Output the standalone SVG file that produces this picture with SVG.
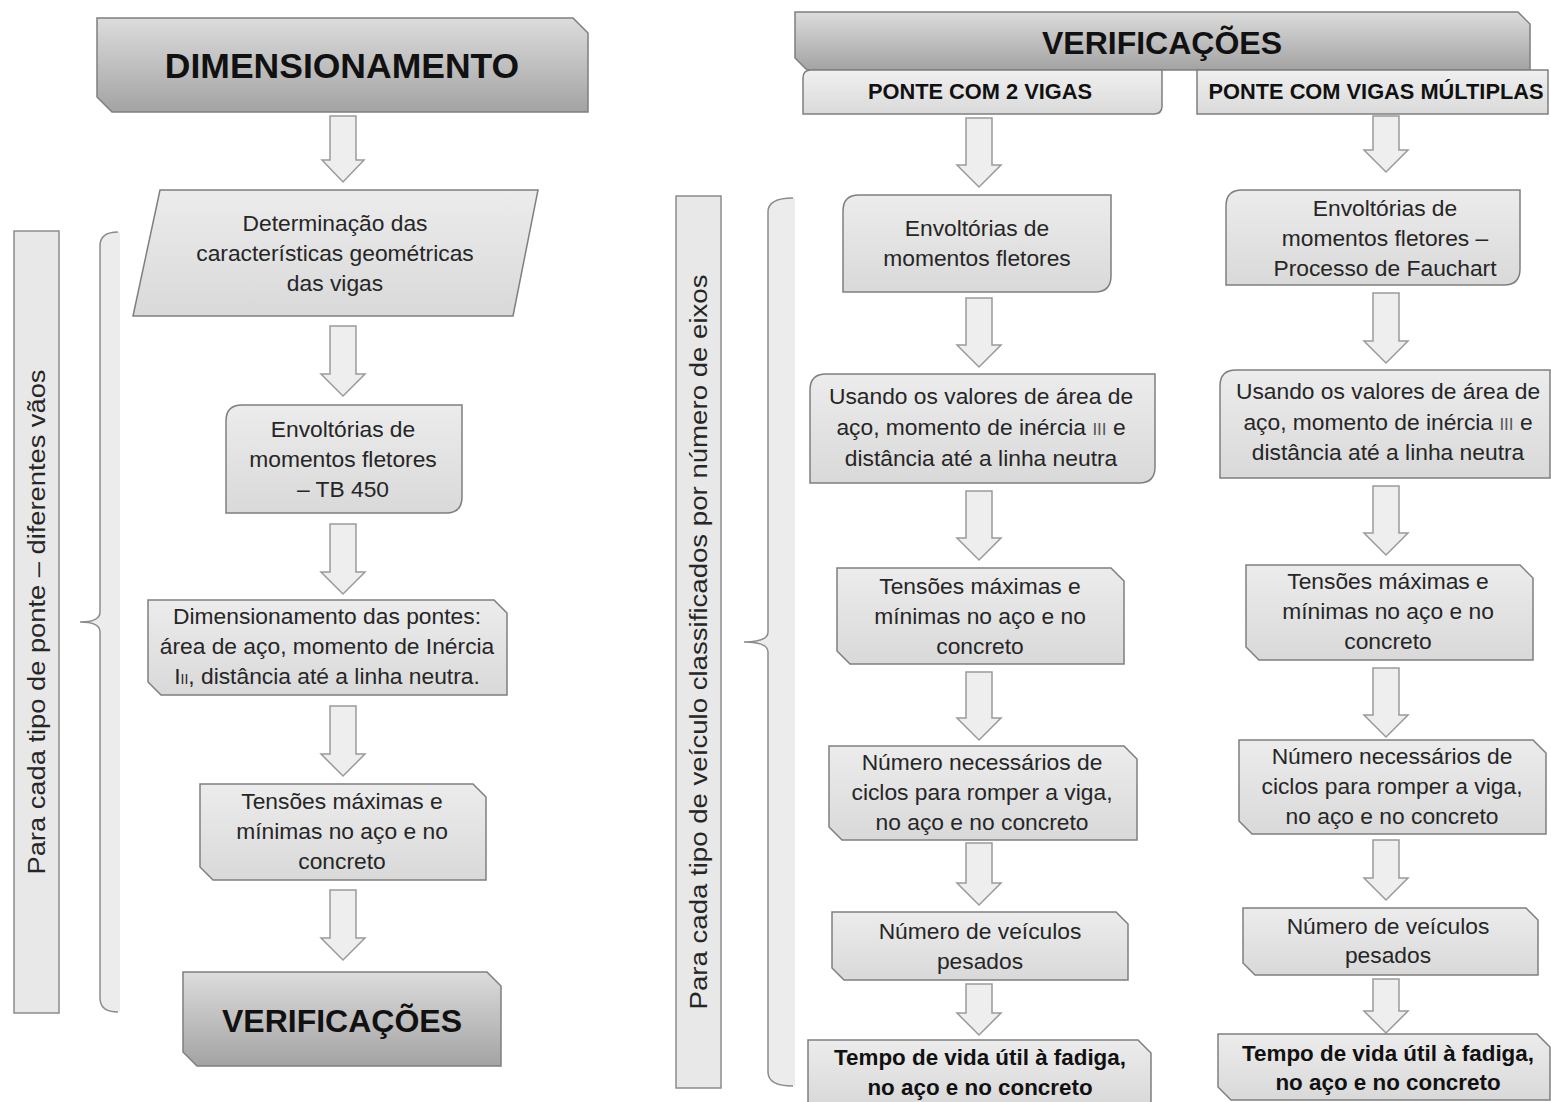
<svg xmlns="http://www.w3.org/2000/svg" width="1551" height="1102" viewBox="0 0 1551 1102">
<defs>
<linearGradient id="gBox" x1="0" y1="0" x2="0" y2="1">
<stop offset="0" stop-color="#ececec"/><stop offset="1" stop-color="#d9d9d9"/>
</linearGradient>
<linearGradient id="gHead" x1="0" y1="0" x2="0" y2="1">
<stop offset="0" stop-color="#dcdcdc"/><stop offset="1" stop-color="#a3a3a3"/>
</linearGradient>
<linearGradient id="gSub" x1="0" y1="0" x2="0" y2="1">
<stop offset="0" stop-color="#f0f0f0"/><stop offset="1" stop-color="#dadada"/>
</linearGradient>
<style>
.box{fill:url(#gBox);stroke:#7f7f7f;stroke-width:1.5}
.head{fill:url(#gHead);stroke:#7f7f7f;stroke-width:1.5}
.sub{fill:url(#gSub);stroke:#7f7f7f;stroke-width:1.5}
.arr{fill:#eeeeee;stroke:#9a9a9a;stroke-width:1.5;stroke-linejoin:miter}
.side{fill:#e8e8e8;stroke:#8c8c8c;stroke-width:1.5}
.brace{fill:none;stroke:#8c8c8c;stroke-width:1.5}
.bfill{fill:#ececec;stroke:none}
text{font-family:"Liberation Sans",Arial,sans-serif;fill:#262626;text-anchor:middle}
.t{font-size:22.8px}
.tb{font-size:22.4px;font-weight:bold;fill:#111}
.h{font-size:32px;font-weight:bold;fill:#111}
.hd{font-size:35.5px;font-weight:bold;fill:#111}
.hs{font-size:21.8px;font-weight:bold;fill:#111}
.v{font-size:23px}
</style>
</defs>

<!-- Side labels and braces -->
<g id="side-left">
<rect class="side" x="14" y="231" width="45" height="782"/>
<text class="v" transform="translate(45,622) rotate(-90)" textLength="505" lengthAdjust="spacingAndGlyphs">Para cada tipo de ponte – diferentes vãos</text>
</g>
<g id="brace-left">
<path class="bfill" d="M118,232 Q100,232 100,246 V612 Q100,622 80,622 Q100,622 100,632 V998 Q100,1012 118,1012 H120 V232 Z"/>
<path class="brace" d="M118,232 Q100,232 100,246 V612 Q100,622 80,622 Q100,622 100,632 V998 Q100,1012 118,1012"/>
</g>
<g id="side-right">
<rect class="side" x="676" y="196" width="45" height="892"/>
<text class="v" transform="translate(707,642) rotate(-90)" textLength="735" lengthAdjust="spacingAndGlyphs">Para cada tipo de veículo classificados por número de eixos</text>
</g>
<g id="brace-right">
<path class="bfill" d="M793,198 Q768,198 768,212 V632 Q768,642 744,642 Q768,642 768,652 V1072 Q768,1086 793,1086 H795 V198 Z"/>
<path class="brace" d="M793,198 Q768,198 768,212 V632 Q768,642 744,642 Q768,642 768,652 V1072 Q768,1086 793,1086"/>
</g>

<!-- Connectors (block arrows) -->
<g id="connectors">
<path class="arr" d="M330,116 H356 V160 H364 L343,182 L322,160 H330 Z"/>
<path class="arr" d="M330,326 H356 V374 H365 L343,396 L321,374 H330 Z"/>
<path class="arr" d="M330,524 H356 V572 H365 L343,594 L321,572 H330 Z"/>
<path class="arr" d="M330,706 H356 V754 H365 L343,776 L321,754 H330 Z"/>
<path class="arr" d="M330,890 H356 V938 H365 L343,960 L321,938 H330 Z"/>

<path class="arr" d="M966,118 H992 V165 H1001 L979,187 L957,165 H966 Z"/>
<path class="arr" d="M966,298 H992 V345 H1001 L979,367 L957,345 H966 Z"/>
<path class="arr" d="M966,491 H992 V538 H1001 L979,560 L957,538 H966 Z"/>
<path class="arr" d="M966,672 H992 V718 H1001 L979,740 L957,718 H966 Z"/>
<path class="arr" d="M966,843 H992 V883 H1001 L979,905 L957,883 H966 Z"/>
<path class="arr" d="M966,984 H992 V1013 H1001 L979,1035 L957,1013 H966 Z"/>

<path class="arr" d="M1373,116 H1399 V150 H1408 L1386,172 L1364,150 H1373 Z"/>
<path class="arr" d="M1373,293 H1399 V341 H1408 L1386,363 L1364,341 H1373 Z"/>
<path class="arr" d="M1373,486 H1399 V533 H1408 L1386,555 L1364,533 H1373 Z"/>
<path class="arr" d="M1373,668 H1399 V715 H1408 L1386,737 L1364,715 H1373 Z"/>
<path class="arr" d="M1373,840 H1399 V878 H1408 L1386,900 L1364,878 H1373 Z"/>
<path class="arr" d="M1373,979 H1399 V1011 H1408 L1386,1033 L1364,1011 H1373 Z"/>
</g>

<!-- Left column -->
<g id="n-dimensionamento">
<path class="head" d="M97,18 H573 L588,33 V112 H112 L97,97 Z"/>
<text class="hd" x="342" y="78">DIMENSIONAMENTO</text>
</g>
<g id="n-determinacao">
<path class="box" d="M160,190 H538 L513,316 H133 Z"/>
<text class="t" x="335" y="231">Determinação das</text>
<text class="t" x="335" y="261">características geométricas</text>
<text class="t" x="335" y="291">das vigas</text>
</g>
<g id="n-envoltorias-tb450">
<path class="box" d="M242,405 H462 V497 Q462,513 446,513 H226 V421 Q226,405 242,405 Z"/>
<text class="t" x="343" y="437">Envoltórias de</text>
<text class="t" x="343" y="467">momentos fletores</text>
<text class="t" x="343" y="497">– TB 450</text>
</g>
<g id="n-dimensionamento-pontes">
<path class="box" d="M148,600 H494 L507,613 V695 H161 L148,682 Z"/>
<text class="t" x="327" y="624">Dimensionamento das pontes:</text>
<text class="t" x="327" y="654">área de aço, momento de Inércia</text>
<text class="t" x="327" y="684">I<tspan font-size="14px">II</tspan>, distância até a linha neutra.</text>
</g>
<g id="n-tensoes-left">
<path class="box" d="M200,784 H473 L486,797 V880 H213 L200,867 Z"/>
<text class="t" x="342" y="809">Tensões máximas e</text>
<text class="t" x="342" y="839">mínimas no aço e no</text>
<text class="t" x="342" y="869">concreto</text>
</g>
<g id="n-verificacoes-left">
<path class="head" d="M183,972 H487 L501,986 V1066 H197 L183,1052 Z"/>
<text class="h" x="342" y="1032">VERIFICAÇÕES</text>
</g>

<!-- Right header -->
<g id="n-verificacoes-top">
<path class="head" d="M795,12 H1518 L1530,24 V70 H807 L795,58 Z"/>
<text class="h" x="1162" y="54">VERIFICAÇÕES</text>
</g>
<g id="n-ponte-2-vigas">
<path class="sub" d="M811,70 H1162 V106 Q1162,114 1154,114 H803 V78 Q803,70 811,70 Z"/>
<text class="hs" x="980" y="99">PONTE COM 2 VIGAS</text>
</g>
<g id="n-ponte-multiplas">
<path class="sub" d="M1197,70 H1548 V114 H1197 Z"/>
<text class="hs" x="1376" y="99" font-size="21.4px">PONTE COM VIGAS MÚLTIPLAS</text>
</g>

<!-- Right column 1 -->
<g id="c1-envoltorias">
<path class="box" d="M859,195 H1111 V276 Q1111,292 1095,292 H843 V211 Q843,195 859,195 Z"/>
<text class="t" x="977" y="236">Envoltórias de</text>
<text class="t" x="977" y="266">momentos fletores</text>
</g>
<g id="c1-usando">
<path class="box" d="M826,374 H1155 V467 Q1155,483 1139,483 H810 V390 Q810,374 826,374 Z"/>
<text class="t" x="981" y="404">Usando os valores de área de</text>
<text class="t" x="981" y="435">aço, momento de inércia <tspan font-size="17px" fill="#555">III</tspan> e</text>
<text class="t" x="981" y="466">distância até a linha neutra</text>
</g>
<g id="c1-tensoes">
<path class="box" d="M837,568 H1111 L1124,581 V664 H850 L837,651 Z"/>
<text class="t" x="980" y="594">Tensões máximas e</text>
<text class="t" x="980" y="624">mínimas no aço e no</text>
<text class="t" x="980" y="654">concreto</text>
</g>
<g id="c1-ciclos">
<path class="box" d="M829,746 H1124 L1137,759 V840 H842 L829,827 Z"/>
<text class="t" x="982" y="770">Número necessários de</text>
<text class="t" x="982" y="800">ciclos para romper a viga,</text>
<text class="t" x="982" y="830">no aço e no concreto</text>
</g>
<g id="c1-veiculos">
<path class="box" d="M832,912 H1116 L1128,924 V980 H844 L832,968 Z"/>
<text class="t" x="980" y="939">Número de veículos</text>
<text class="t" x="980" y="969">pesados</text>
</g>
<g id="c1-tempo">
<path class="box" d="M808,1040 H1138 L1151,1053 V1104 H808 Z"/>
<text class="tb" x="980" y="1065">Tempo de vida útil à fadiga,</text>
<text class="tb" x="980" y="1095">no aço e no concreto</text>
</g>

<!-- Right column 2 -->
<g id="c2-envoltorias">
<path class="box" d="M1242,190 H1520 V269 Q1520,285 1504,285 H1226 V206 Q1226,190 1242,190 Z"/>
<text class="t" x="1385" y="216">Envoltórias de</text>
<text class="t" x="1385" y="246">momentos fletores –</text>
<text class="t" x="1385" y="276">Processo de Fauchart</text>
</g>
<g id="c2-usando">
<path class="box" d="M1236,370 H1550 V478 H1220 V386 Q1220,370 1236,370 Z"/>
<text class="t" x="1388" y="399">Usando os valores de área de</text>
<text class="t" x="1388" y="430">aço, momento de inércia <tspan font-size="17px" fill="#555">III</tspan> e</text>
<text class="t" x="1388" y="460">distância até a linha neutra</text>
</g>
<g id="c2-tensoes">
<path class="box" d="M1246,565 H1520 L1533,578 V660 H1259 L1246,647 Z"/>
<text class="t" x="1388" y="589">Tensões máximas e</text>
<text class="t" x="1388" y="619">mínimas no aço e no</text>
<text class="t" x="1388" y="649">concreto</text>
</g>
<g id="c2-ciclos">
<path class="box" d="M1239,740 H1533 L1546,753 V834 H1252 L1239,821 Z"/>
<text class="t" x="1392" y="764">Número necessários de</text>
<text class="t" x="1392" y="794">ciclos para romper a viga,</text>
<text class="t" x="1392" y="824">no aço e no concreto</text>
</g>
<g id="c2-veiculos">
<path class="box" d="M1243,908 H1526 L1538,920 V975 H1255 L1243,963 Z"/>
<text class="t" x="1388" y="934">Número de veículos</text>
<text class="t" x="1388" y="963">pesados</text>
</g>
<g id="c2-tempo">
<path class="box" d="M1218,1034 H1537 L1550,1047 V1100 H1231 L1218,1087 Z"/>
<text class="tb" x="1388" y="1061">Tempo de vida útil à fadiga,</text>
<text class="tb" x="1388" y="1090">no aço e no concreto</text>
</g>
</svg>
